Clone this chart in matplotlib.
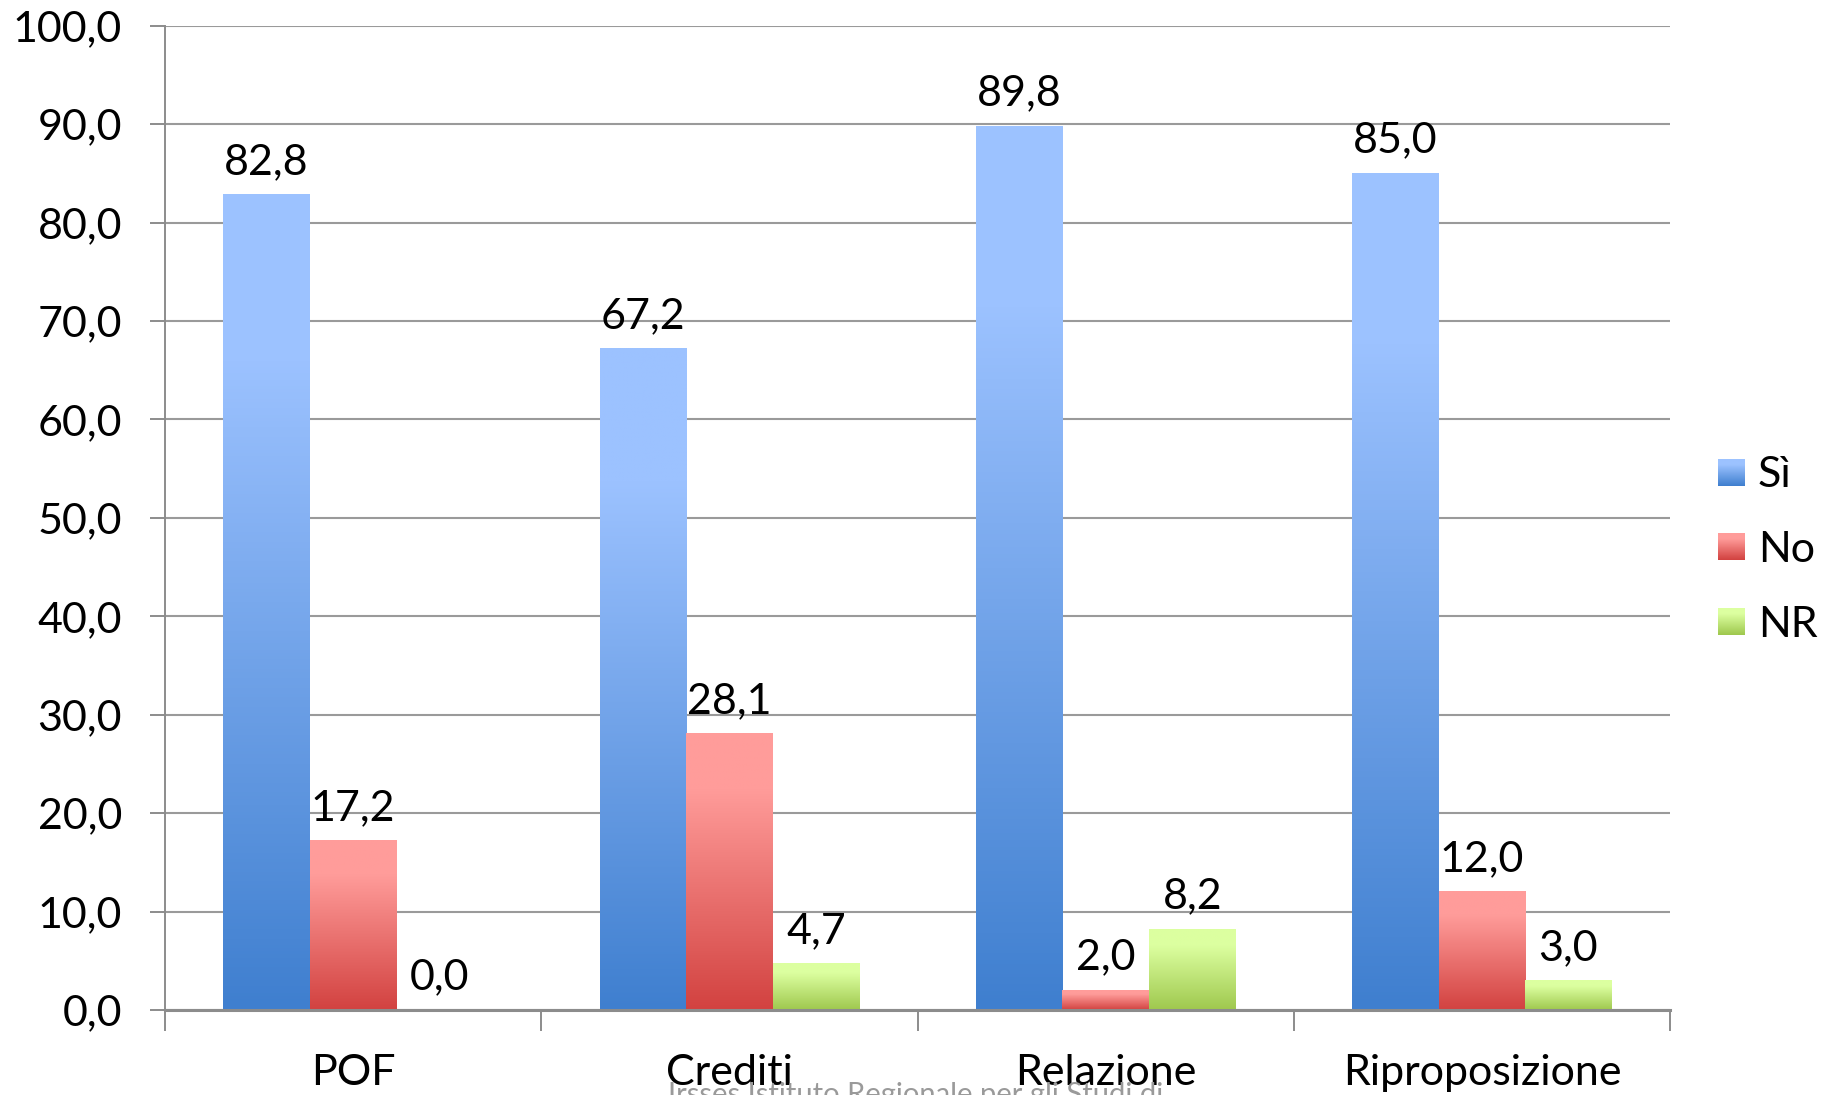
import numpy as np
import matplotlib
matplotlib.use("Agg")
from matplotlib import pyplot as plt
from matplotlib.colors import LinearSegmentedColormap
from matplotlib.legend_handler import HandlerBase
from matplotlib.image import BboxImage
from matplotlib.transforms import Bbox, TransformedBbox
from matplotlib.patches import Patch

categories = ["POF", "Crediti", "Relazione", "Riproposizione"]
series_names = ["Sì", "No", "NR"]
si_values = [82.8, 67.2, 89.8, 85.0]
no_values = [17.2, 28.1, 2.0, 12.0]
nr_values = [0.0, 4.7, 8.2, 3.0]
y_ticks = [0, 10, 20, 30, 40, 50, 60, 70, 80, 90, 100]

# (top colour, bottom colour) for each series
gradients = [
    ("#9cc2ff", "#3f7fcf"),
    ("#ff9c9a", "#d24240"),
    ("#dcffa0", "#9fc84e"),
]

plt.rcParams["font.family"] = ["Lato", "DejaVu Sans"]
FS = 31


def gradient_cmap(top, bottom):
    # stays light for the upper part of the bar, then darkens to the base
    return LinearSegmentedColormap.from_list(
        "grad", [(0.0, bottom), (0.8, top), (1.0, top)])


def fmt(v):
    return f"{v:.1f}".replace(".", ",")


class GradientHandler(HandlerBase):
    def create_artists(self, legend, orig_handle, xdescent, ydescent,
                       width, height, fontsize, trans):
        size = min(width, height)
        x0 = -xdescent + (width - size) / 2
        y0 = -ydescent + (height - size) / 2
        bb = TransformedBbox(Bbox.from_bounds(x0, y0, size, size), trans)
        img = BboxImage(bb, cmap=orig_handle.cmap, interpolation="bilinear")
        img.set_data(np.linspace(1, 0, 64).reshape(-1, 1))
        img.set_clim(0, 1)
        return [img]


class GradPatch(Patch):
    def __init__(self, cmap, **kw):
        super().__init__(**kw)
        self.cmap = cmap


fig = plt.figure(figsize=(18.31, 10.95), dpi=100)
ax = fig.add_axes([0.0901, 0.0776, 0.822, 0.899])

x = np.arange(len(categories))
width = 0.23
grad = np.linspace(1, 0, 256).reshape(-1, 1)
handles = []
for i, (vals, name, (top, bottom)) in enumerate(
        zip([si_values, no_values, nr_values], series_names, gradients)):
    cmap = gradient_cmap(top, bottom)
    pos = x + (i - 1) * width
    bars = ax.bar(pos, vals, width, color="none", edgecolor="none", zorder=3)
    for rect, v in zip(bars, vals):
        if v > 0:
            bx, by = rect.get_x(), rect.get_y()
            ax.imshow(grad, cmap=cmap, aspect="auto", vmin=0, vmax=1,
                      extent=[bx, bx + rect.get_width(), by, by + v],
                      interpolation="bilinear", zorder=3)
        ax.text(rect.get_x() + rect.get_width() / 2, v + 2.1, fmt(v),
                ha="center", va="baseline", fontsize=FS, zorder=4)
    handles.append(GradPatch(cmap, label=name))

ax.set_xlim(-0.5, len(categories) - 0.5)
ax.set_ylim(0, 100)
ax.set_yticks(y_ticks)
ax.set_yticklabels([fmt(v) for v in y_ticks], fontsize=FS)
ax.set_xticks(x)
ax.set_xticklabels(categories, fontsize=FS)
ax.set_xticks(np.arange(len(categories) + 1) - 0.5, minor=True)
ax.tick_params(axis="x", which="major", length=0, pad=32)
ax.tick_params(axis="x", which="minor", length=15, width=1.4,
               color="#8c8c8c", direction="out")
ax.tick_params(axis="y", length=11, width=1.4, color="#8c8c8c", pad=20)

ax.grid(axis="y", color="#9a9a9a", linewidth=1.5, zorder=0)
ax.set_axisbelow(True)
for side in ("top", "right"):
    ax.spines[side].set_visible(False)
ax.spines["left"].set_color("#8c8c8c")
ax.spines["left"].set_linewidth(1.4)
ax.spines["bottom"].set_color("#8c8c8c")
ax.spines["bottom"].set_linewidth(2.2)
ax.spines["bottom"].set_zorder(5)

fig.legend(handles=handles, handler_map={GradPatch: GradientHandler()},
           loc="center left", bbox_to_anchor=(0.9385, 0.4977), frameon=False,
           fontsize=FS, handlelength=0.62, handleheight=0.62,
           handletextpad=0.3, labelspacing=0.85, borderpad=0,
           borderaxespad=0)

fig.text(0.5, -0.012, "Irsses Istituto Regionale per gli Studi di",
         ha="center", va="bottom", fontsize=21, color="#9a9a9a")

fig.savefig("out.png", dpi=100)
